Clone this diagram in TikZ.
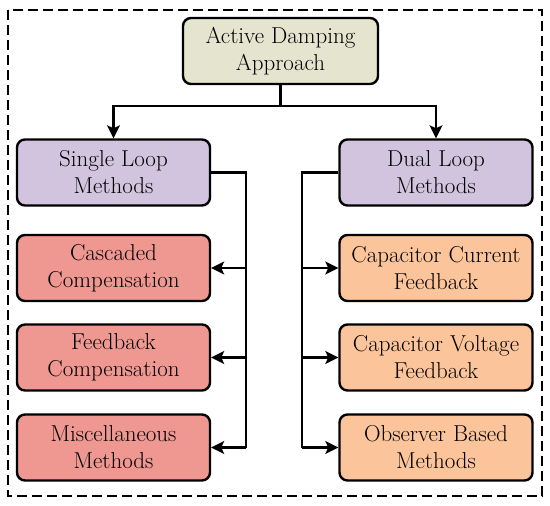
\documentclass[tikz,border=0pt]{standalone}
\usetikzlibrary{arrows.meta}
\definecolor{topc}{HTML}{E4E4CF}
\definecolor{purp}{HTML}{D2C4DE}
\definecolor{redc}{HTML}{EE9891}
\definecolor{orac}{HTML}{FBC49A}
\begin{document}
\begin{tikzpicture}[x=1pt,y=-1pt,
 box/.style={draw=black, line width=2.4pt, rounded corners=8pt, minimum width=193pt, minimum height=66pt, align=center, font=\fontsize{23}{27}\selectfont, inner sep=0pt},
 conn/.style={line width=2.2pt},
 arr/.style={conn,-{Stealth[length=13pt,width=13pt,inset=3pt]}}]
\useasboundingbox (0,0) rectangle (550,506);
\draw[line width=1.6pt, dash pattern=on 10pt off 5pt] (8,10) rectangle (542,496);
\node[box, fill=topc, minimum width=195pt] (top) at (280.5,51) {Active Damping\\Approach};
\node[box, fill=purp] (single) at (113.5,172.5) {Single Loop\\Methods};
\node[box, fill=purp] (dual) at (436,172.5) {Dual Loop\\Methods};
\node[box, fill=redc] (casc) at (113.5,268) {Cascaded\\Compensation};
\node[box, fill=redc] (fbc) at (113.5,357.5) {Feedback\\Compensation};
\node[box, fill=redc] (misc) at (113.5,447.5) {Miscellaneous\\Methods};
\node[box, fill=orac] (ccf) at (436,268) {Capacitor Current\\Feedback};
\node[box, fill=orac] (cvf) at (436,357.5) {Capacitor Voltage\\Feedback};
\node[box, fill=orac] (obs) at (436,447.5) {Observer Based\\Methods};
\draw[arr] (top.south) -- ++(0,21) -| (single.north);
\draw[arr] (top.south) -- ++(0,21) -| (dual.north);
\draw[conn] (single.east) -- ++(35,0) coordinate (lb) -- (lb |- misc.east);
\draw[arr] (lb |- casc.east) -- (casc.east);
\draw[arr] (lb |- fbc.east) -- (fbc.east);
\draw[arr] (lb |- misc.east) -- (misc.east);
\draw[conn] (dual.west) -- ++(-36,0) coordinate (rb) -- (rb |- obs.west);
\draw[arr] (rb |- ccf.west) -- (ccf.west);
\draw[arr] (rb |- cvf.west) -- (cvf.west);
\draw[arr] (rb |- obs.west) -- (obs.west);
\end{tikzpicture}
\end{document}
